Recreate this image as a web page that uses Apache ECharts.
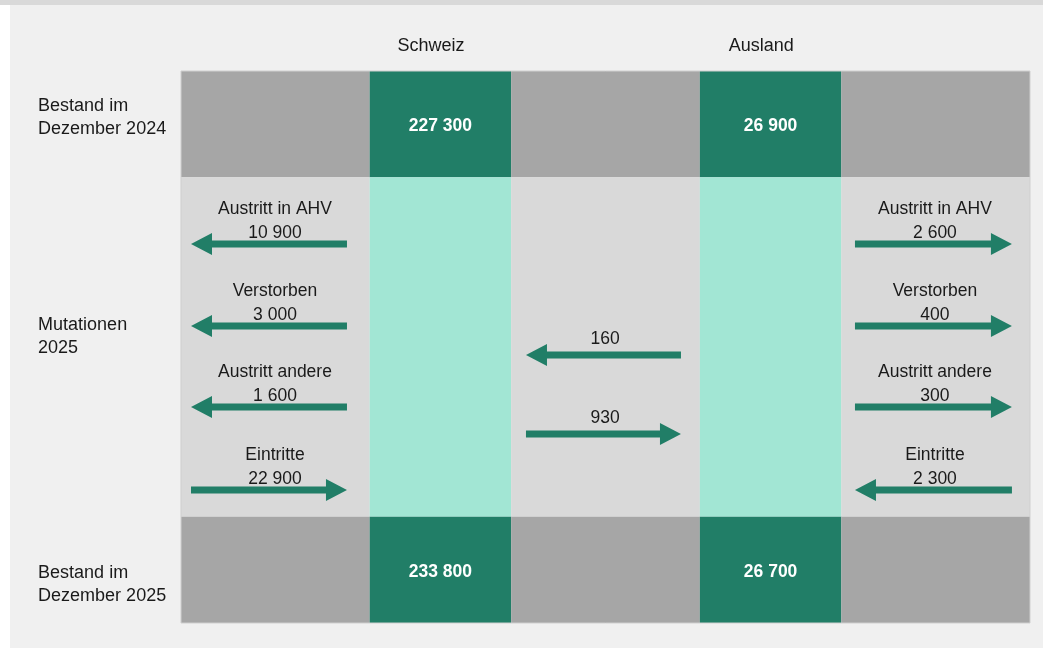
<!DOCTYPE html>
<html>
<head>
<meta charset="utf-8">
<script src="https://cdn.jsdelivr.net/npm/echarts@6/dist/echarts.min.js"></script>
<style>
html,body{margin:0;padding:0;background:#ffffff;}
#chart{width:1043px;height:648px;}
</style>
</head>
<body>
<div id="chart"></div>
<script>
// ---------- data ----------
const columns = ['Schweiz', 'Ausland'];
const rowLabels = ['Bestand im\nDezember 2024', 'Mutationen\n2025', 'Bestand im\nDezember 2025'];
const stock2024 = [227300, 26900];
const stock2025 = [233800, 26700];
const flowTypes = ['Austritt in AHV', 'Verstorben', 'Austritt andere', 'Eintritte'];
const flowDirection = ['out', 'out', 'out', 'in'];
const flowsSchweiz = [10900, 3000, 1600, 22900];
const flowsAusland = [2600, 400, 300, 2300];
const transferAuslandToSchweiz = 160;
const transferSchweizToAusland = 930;

// ---------- layout (axis units) ----------
const colBounds = [0, 4, 7, 11, 14, 18];
const rowBounds = [0, 1, 4.2, 5.2];
const flowRowY = [1.630, 2.402, 3.165, 3.947];
const transferY = [2.675, 3.420];
const C = {
  dark: '#217e67', light: '#a2e6d4', grayDark: '#a6a6a6', grayLight: '#d9d9d9', text: '#1a1a1a'
};
const FONT = '"Liberation Sans", Arial, sans-serif';
const fmt = v => String(v).replace(/\B(?=(\d{3})+(?!\d))/g, ' ');

// cells
const cells = [];
for (let r = 0; r < 3; r++) {
  for (let c = 0; c < 5; c++) {
    const isCol = c === 1 || c === 3;
    let fill;
    if (r === 1) fill = isCol ? C.light : C.grayLight;
    else fill = isCol ? C.dark : C.grayDark;
    let label = '';
    if (isCol && r === 0) label = fmt(stock2024[(c - 1) / 2]);
    if (isCol && r === 2) label = fmt(stock2025[(c - 1) / 2]);
    cells.push({ value: [colBounds[c], colBounds[c + 1], rowBounds[r], rowBounds[r + 1]], fill, label });
  }
}

// arrows: value = [tailX, headX, y]
const arrows = [];
flowTypes.forEach((t, i) => {
  const outS = flowDirection[i] === 'out';
  arrows.push({ value: outS ? [3.519, 0.212, flowRowY[i]] : [0.212, 3.519, flowRowY[i]], lx: 1.993, title: t, num: fmt(flowsSchweiz[i]) });
  arrows.push({ value: outS ? [14.289, 17.617, flowRowY[i]] : [17.617, 14.289, flowRowY[i]], lx: 15.985, title: t, num: fmt(flowsAusland[i]) });
});
arrows.push({ value: [10.600, 7.314, transferY[0]], lx: 8.99, title: '', num: fmt(transferAuslandToSchweiz) });
arrows.push({ value: [7.314, 10.600, transferY[1]], lx: 8.99, title: '', num: fmt(transferSchweizToAusland) });

// static labels: row labels and column headers
const rowLabelPos = [0.443, 2.497, 4.833];
const textItems = [];
rowLabels.forEach((t, i) => textItems.push({ value: [-3.03, rowLabelPos[i]], text: t, align: 'left' }));
const headerX = [5.30, 12.30];
columns.forEach((t, i) => textItems.push({ value: [headerX[i], -0.235], text: t, align: 'center' }));

const chart = echarts.init(document.getElementById('chart'), null, { renderer: 'canvas' });
chart.setOption({
  animation: false,
  backgroundColor: '#ffffff',
  graphic: [
    { type: 'rect', shape: { x: 0, y: 0, width: 1043, height: 5 }, style: { fill: '#d9d9d9' }, z: -10 },
    { type: 'rect', shape: { x: 10, y: 5, width: 1033, height: 643 }, style: { fill: '#f0f0f0' }, z: -10 }
  ],
  grid: { left: 181, right: 13, top: 71, bottom: 25, show: true, borderColor: '#cfcfcf', borderWidth: 1, backgroundColor: 'transparent', z: 10 },
  xAxis: { type: 'value', min: 0, max: 18, show: false },
  yAxis: { type: 'value', min: 0, max: 5.2, inverse: true, show: false },
  series: [
    {
      type: 'custom', data: cells, z: 1,
      renderItem: (params, api) => {
        const d = cells[params.dataIndex];
        const p0 = api.coord([api.value(0), api.value(2)]);
        const p1 = api.coord([api.value(1), api.value(3)]);
        const children = [{ type: 'rect', shape: { x: p0[0], y: p0[1], width: p1[0] - p0[0], height: p1[1] - p0[1] }, style: { fill: d.fill } }];
        if (d.label) children.push({ type: 'text', x: (p0[0] + p1[0]) / 2, y: (p0[1] + p1[1]) / 2 + 2, style: { text: d.label, fill: '#ffffff', font: 'bold 17.5px ' + FONT, align: 'center', verticalAlign: 'middle' } });
        return { type: 'group', children };
      }
    },
    {
      type: 'custom', data: arrows, z: 5,
      renderItem: (params, api) => {
        const d = arrows[params.dataIndex];
        const t = api.coord([api.value(0), api.value(2)]);
        const h = api.coord([api.value(1), api.value(2)]);
        const dir = h[0] > t[0] ? 1 : -1;
        const y = t[1], sw = 3.5, hw = 11, hl = 21;
        const bx = h[0] - dir * hl;
        const pts = [[t[0], y - sw], [bx, y - sw], [bx, y - hw], [h[0], y], [bx, y + hw], [bx, y + sw], [t[0], y + sw]];
        const lx = api.coord([d.lx, api.value(2)])[0];
        const children = [{ type: 'polygon', shape: { points: pts }, style: { fill: C.dark } }];
        if (d.title) {
          children.push({ type: 'text', x: lx, y: y - 35, style: { text: d.title, fill: C.text, font: '17.5px ' + FONT, align: 'center', verticalAlign: 'middle' } });
          children.push({ type: 'text', x: lx, y: y - 11, style: { text: d.num, fill: C.text, font: '17.5px ' + FONT, align: 'center', verticalAlign: 'middle' } });
        } else {
          children.push({ type: 'text', x: lx, y: y - 16, style: { text: d.num, fill: C.text, font: '17.5px ' + FONT, align: 'center', verticalAlign: 'middle' } });
        }
        return { type: 'group', children };
      }
    },
    {
      type: 'custom', data: textItems, z: 5, clip: false,
      renderItem: (params, api) => {
        const d = textItems[params.dataIndex];
        const p = api.coord([api.value(0), api.value(1)]);
        return { type: 'text', x: p[0], y: p[1], style: { text: d.text, fill: C.text, font: '18px ' + FONT, align: d.align, verticalAlign: 'middle', lineHeight: 23 } };
      }
    }
  ]
});
</script>
</body>
</html>
